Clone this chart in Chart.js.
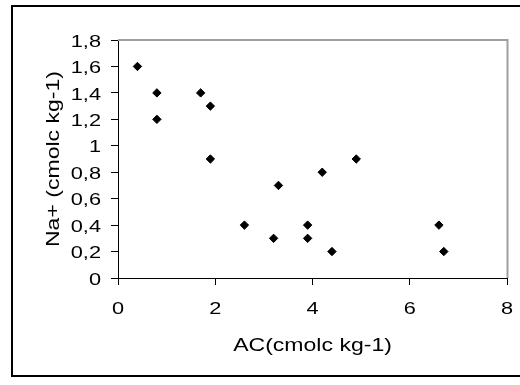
<!DOCTYPE html>
<html>
<head>
<meta charset="utf-8">
<script src="https://cdn.jsdelivr.net/npm/chart.js@4/dist/chart.umd.min.js"></script>
<style>
  body { margin: 0; background: #fff; }
</style>
</head>
<body>
<canvas id="myChart" width="520" height="385"></canvas>
<script>
// AC vs Na+ scatter data
const acValues = [0.4, 0.8, 0.8, 1.7, 1.9, 1.9, 2.6, 3.2, 3.3, 3.9, 3.9, 4.2, 4.4, 4.9, 6.6, 6.7];
const naValues = [1.6, 1.4, 1.2, 1.4, 1.3, 0.9, 0.4, 0.3, 0.7, 0.4, 0.3, 0.8, 0.2, 0.9, 0.4, 0.2];
const xTicks = [0, 2, 4, 6, 8];
const yTicks = [0, 0.2, 0.4, 0.6, 0.8, 1, 1.2, 1.4, 1.6, 1.8];
const xTitle = 'AC(cmolc kg-1)';
const yTitle = 'Na+ (cmolc kg-1)';

// the original text is drawn wide, so stretch glyphs horizontally
const SX = 1.28;

const canvas = document.getElementById('myChart');
const ctx = canvas.getContext('2d');
const origFill = ctx.fillText.bind(ctx);
const origMeasure = ctx.measureText.bind(ctx);
ctx.fillText = function(t, x, y) {
  ctx.save();
  ctx.translate(x, y);
  ctx.scale(SX, 1);
  origFill(t, 0, 0);
  ctx.restore();
};
ctx.measureText = function(t) {
  const m = origMeasure(t);
  return { width: m.width * SX, actualBoundingBoxAscent: m.actualBoundingBoxAscent, actualBoundingBoxDescent: m.actualBoundingBoxDescent };
};

const frame = {
  id: 'frame',
  beforeDraw(chart) {
    const c = chart.ctx;
    c.save();
    c.fillStyle = '#fff';
    c.fillRect(0, 0, chart.width, chart.height);
    c.strokeStyle = '#000';
    c.lineWidth = 2;
    c.strokeRect(12, 6, 520, 370);
    c.restore();
  },
  beforeDatasetsDraw(chart) {
    const a = chart.chartArea;
    const c = chart.ctx;
    c.save();
    c.strokeStyle = '#a0a0a0';
    c.lineWidth = 2;
    c.beginPath();
    c.moveTo(a.left, a.top);
    c.lineTo(a.right + 0.5, a.top);
    c.lineTo(a.right + 0.5, a.bottom);
    c.stroke();
    c.restore();
  }
};

const fmt = v => String(Number(v.toFixed(1))).replace('.', ',');

new Chart(ctx, {
  type: 'scatter',
  data: {
    datasets: [{
      data: acValues.map((x, i) => ({ x: x, y: naValues[i] })),
      pointStyle: 'rectRot',
      pointRadius: 4.2,
      pointBackgroundColor: '#000',
      pointBorderColor: '#000',
      pointBorderWidth: 1
    }]
  },
  options: {
    responsive: false,
    animation: false,
    events: [],
    layout: { padding: { left: 0, right: 13, top: 40, bottom: 0 } },
    plugins: { legend: { display: false }, tooltip: { enabled: false } },
    scales: {
      x: {
        type: 'linear',
        min: 0,
        max: 8,
        afterBuildTicks: s => { s.ticks = xTicks.map(v => ({ value: v })); },
        afterFit: s => { s.height = 107; s.paddingLeft = 0; s.paddingRight = 0; },
        grid: { drawOnChartArea: false, drawTicks: true, tickLength: 7, color: '#000' },
        border: { color: '#000', width: 1 },
        ticks: {
          color: '#000',
          padding: 14,
          maxRotation: 0,
          font: { family: 'Liberation Sans', size: 17 },
          callback: v => fmt(v)
        },
        title: {
          display: true,
          text: xTitle,
          color: '#000',
          padding: { top: 0, bottom: 28 },
          font: { family: 'Liberation Sans', size: 18 }
        }
      },
      y: {
        type: 'linear',
        min: 0,
        max: 1.8,
        afterBuildTicks: s => { s.ticks = yTicks.map(v => ({ value: v })); },
        afterFit: s => { s.width = 118; s.paddingTop = 0; s.paddingBottom = 0; },
        grid: { drawOnChartArea: false, drawTicks: true, tickLength: 7, color: '#000' },
        border: { color: '#000', width: 1 },
        ticks: {
          color: '#000',
          padding: 10,
          labelOffset: 2,
          font: { family: 'Liberation Sans', size: 17 },
          callback: v => fmt(v)
        },
        title: {
          display: true,
          text: yTitle,
          color: '#000',
          padding: { top: 43, bottom: 0 },
          font: { family: 'Liberation Sans', size: 18 }
        }
      }
    }
  },
  plugins: [frame]
});
</script>
</body>
</html>
